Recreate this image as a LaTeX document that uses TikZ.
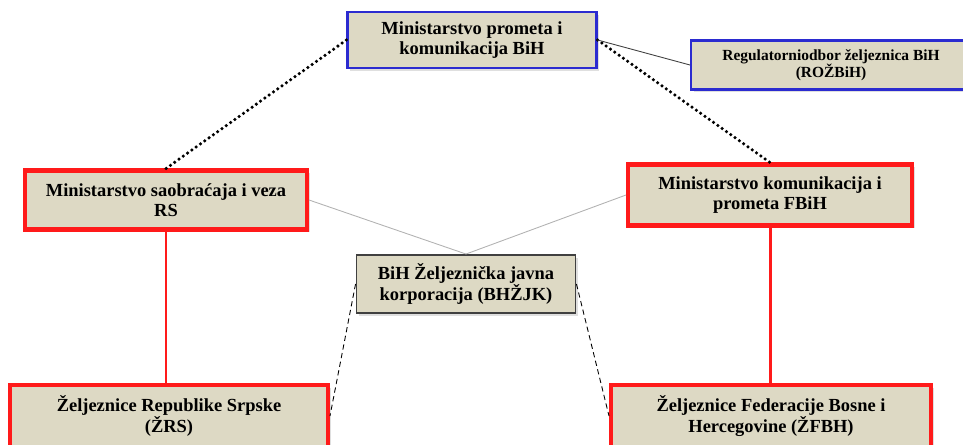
\documentclass[tikz,border=0pt]{standalone}
\usepackage{fontspec}
\setmainfont{Liberation Serif}
\usetikzlibrary{shadows}
\definecolor{boxfill}{HTML}{DDD9C4}
\definecolor{bluebox}{HTML}{2B2BD0}
\definecolor{redbox}{HTML}{FF1A1A}
\definecolor{graybox}{HTML}{404040}

\begin{document}
\begin{tikzpicture}[x=0.02cm, y=-0.02cm]
\tikzstyle{unit}=[rectangle, draw, fill=boxfill, align=center, inner sep=2pt,
  font=\bfseries\fontsize{10.5}{11.2}\selectfont,
  drop shadow={opacity=0.25, shadow xshift=1.5pt, shadow yshift=-1.5pt}]
\tikzstyle{bluebox}=[unit, draw=bluebox, line width=1.2pt]
\tikzstyle{redbox}=[unit, draw=redbox, line width=2.3pt]
\tikzstyle{graybox}=[unit, draw=graybox, line width=1.1pt]
\tikzstyle{dotline}=[line width=2pt, dash pattern=on 0pt off 3pt, line cap=round]
\useasboundingbox (0,0) rectangle (963,445);

\node[bluebox, minimum width=4.98cm, minimum height=1.12cm] (mpk) at (472,40)
  {Ministarstvo prometa i\\komunikacija BiH};
\node[bluebox, minimum width=5.6cm, minimum height=0.98cm,
  font=\bfseries\fontsize{8.8}{10}\selectfont] (rozb) at (831,65)
  {Regulatorniodbor željeznica BiH\\(ROŽBiH)};
\node[redbox, minimum width=5.64cm, minimum height=1.18cm] (msv) at (166,200)
  {Ministarstvo saobraćaja i veza\\RS};
\node[redbox, minimum width=5.68cm, minimum height=1.22cm] (mkp) at (770,195)
  {Ministarstvo komunikacija i\\prometa FBiH};
\node[graybox, minimum width=4.38cm, minimum height=1.16cm] (bhzjk) at (466,284)
  {BiH Željeznička javna\\korporacija (BHŽJK)};
\node[redbox, minimum width=6.36cm, minimum height=1.24cm] (zrs) at (169,416)
  {Željeznice Republike Srpske\\(ŽRS)};
\node[redbox, minimum width=6.4cm, minimum height=1.24cm] (zfbh) at (771,416)
  {Željeznice Federacije Bosne i\\Hercegovine (ŽFBH)};

\path[dotline]
(mpk.west) edge (msv.north)
(mpk.east) edge (mkp.north);
\path[draw=graybox, line width=0.5pt]
(mpk.east) edge (rozb.west);
\path[draw=gray!60, line width=0.5pt]
(msv.east) edge (bhzjk.north)
(mkp.west) edge (bhzjk.north);
\path[draw=redbox, line width=1.7pt]
(msv.south) edge (msv.south |- zrs.north)
(mkp.south) edge (mkp.south |- zfbh.north);
\path[densely dashed, line width=0.5pt]
(bhzjk.west) edge (zrs.east)
(bhzjk.east) edge (zfbh.west);

\end{tikzpicture}
\end{document}
